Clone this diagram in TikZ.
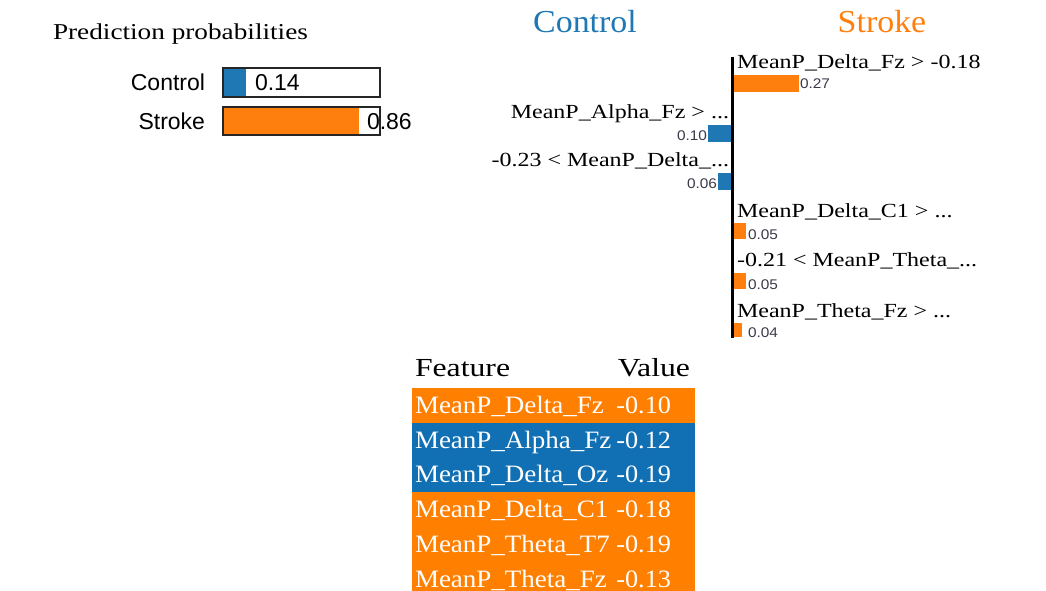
\documentclass[tikz,border=0pt]{standalone}
\usepackage{fontspec}
\setmainfont{Liberation Serif}
\newfontfamily\sansf{Liberation Sans}
\usepackage{graphicx}
\definecolor{limeblue}{HTML}{1F77B4}
\definecolor{limeorange}{HTML}{FF7F0E}
\definecolor{tblblue}{HTML}{1170B3}
\definecolor{tblorange}{HTML}{FF7F00}
\definecolor{valgray}{HTML}{3A3A4A}
\newcommand\sxt[2]{\scalebox{#1}[1]{#2}}
\newcommand\fs[1]{\fontsize{#1pt}{#1pt}\selectfont}
\begin{document}
\begin{tikzpicture}[x=1pt,y=-1pt,
  txt/.style={inner sep=0pt, outer sep=0pt},
  lbl/.style={txt, font=\fs{20}},
  val/.style={txt, font=\sansf\fs{14}, text=valgray},
  pbox/.style={draw=black!85, line width=1.5pt},
  tbl/.style={txt, font=\fs{25}, text=white}]
\useasboundingbox (0,0) rectangle (1046,591);

% ---------- Prediction probabilities ----------
\node[txt, anchor=base west, font=\fs{22.7}] (ptitle) at (53,40) {\sxt{1.2}{Prediction probabilities}};
\fill[limeblue] (223,68) rectangle (246,97);
\draw[pbox] (223,68) rectangle (380,97);
\fill[limeorange] (223,107) rectangle (359,135);
\draw[pbox] (223,107) rectangle (380,135);
\node[txt, anchor=base east, font=\sansf\fs{23}] (pc) at (205,91) {Control};
\node[txt, anchor=base east, font=\sansf\fs{23}] (ps) at (205,129) {Stroke};
\node[txt, anchor=base west, font=\sansf\fs{23}] (pcv) at (255,91) {0.14};
\node[txt, anchor=base west, font=\sansf\fs{23}] (psv) at (367,129) {0.86};

% ---------- Explanation chart ----------
\node[txt, anchor=base, font=\fs{32}, text=limeblue] (tc) at (585,33) {\sxt{1.06}{Control}};
\node[txt, anchor=base, font=\fs{32}, text=limeorange] (ts) at (882,33) {\sxt{1.06}{Stroke}};

\fill[limeorange] (734,75) rectangle (799,92);
\fill[limeblue] (708,125) rectangle (731.5,142);
\fill[limeblue] (718,173) rectangle (731.5,190);
\fill[limeorange] (734,223) rectangle (746,239);
\fill[limeorange] (734,273) rectangle (746,289);
\fill[limeorange] (734,323) rectangle (742,337);
\draw[line width=2.6pt, black] (732.6,57) -- (732.6,338);

\node[lbl, anchor=base west] (l1) at (737,69) {\sxt{1.2}{MeanP\_Delta\_Fz > -0.18}};
\node[lbl, anchor=base east] (l2) at (729,119) {\sxt{1.2}{MeanP\_Alpha\_Fz > ...}};
\node[lbl, anchor=base east] (l3) at (729,166) {\sxt{1.2}{-0.23 < MeanP\_Delta\_...}};
\node[lbl, anchor=base west] (l4) at (737,217) {\sxt{1.2}{MeanP\_Delta\_C1 > ...}};
\node[lbl, anchor=base west] (l5) at (737,266) {\sxt{1.2}{-0.21 < MeanP\_Theta\_...}};
\node[lbl, anchor=base west] (l6) at (737,317) {\sxt{1.2}{MeanP\_Theta\_Fz > ...}};

\node[val, anchor=base west] (v1) at (800,89) {\sxt{1.1}{0.27}};
\node[val, anchor=base east] (v2) at (707,140) {\sxt{1.1}{0.10}};
\node[val, anchor=base east] (v3) at (717,188) {\sxt{1.1}{0.06}};
\node[val, anchor=base west] (v4) at (748,239) {\sxt{1.1}{0.05}};
\node[val, anchor=base west] (v5) at (748,289) {\sxt{1.1}{0.05}};
\node[val, anchor=base west] (v6) at (748,337) {\sxt{1.1}{0.04}};

% ---------- Table ----------
\node[txt, anchor=base west, font=\fs{26}] (hf) at (415,376) {\sxt{1.22}{Feature}};
\node[txt, anchor=base east, font=\fs{26}] (hv) at (690,376) {\sxt{1.22}{Value}};
\fill[tblorange] (412,388) rectangle (695,422.5);
\fill[tblblue] (412,422.5) rectangle (695,491.5);
\fill[tblorange] (412,491.5) rectangle (695,591);

\node[tbl, anchor=base west] (f1) at (415,413) {\sxt{1.08}{MeanP\_Delta\_Fz}};
\node[tbl, anchor=base west] (f2) at (415,448) {\sxt{1.08}{MeanP\_Alpha\_Fz}};
\node[tbl, anchor=base west] (f3) at (415,482) {\sxt{1.08}{MeanP\_Delta\_Oz}};
\node[tbl, anchor=base west] (f4) at (415,517) {\sxt{1.08}{MeanP\_Delta\_C1}};
\node[tbl, anchor=base west] (f5) at (415,552) {\sxt{1.08}{MeanP\_Theta\_T7}};
\node[tbl, anchor=base west] (f6) at (415,587) {\sxt{1.08}{MeanP\_Theta\_Fz}};

\node[tbl, anchor=base east] (w1) at (671,413) {\sxt{1.05}{-0.10}};
\node[tbl, anchor=base east] (w2) at (671,448) {\sxt{1.05}{-0.12}};
\node[tbl, anchor=base east] (w3) at (671,482) {\sxt{1.05}{-0.19}};
\node[tbl, anchor=base east] (w4) at (671,517) {\sxt{1.05}{-0.18}};
\node[tbl, anchor=base east] (w5) at (671,552) {\sxt{1.05}{-0.19}};
\node[tbl, anchor=base east] (w6) at (671,587) {\sxt{1.05}{-0.13}};
\end{tikzpicture}
\end{document}
